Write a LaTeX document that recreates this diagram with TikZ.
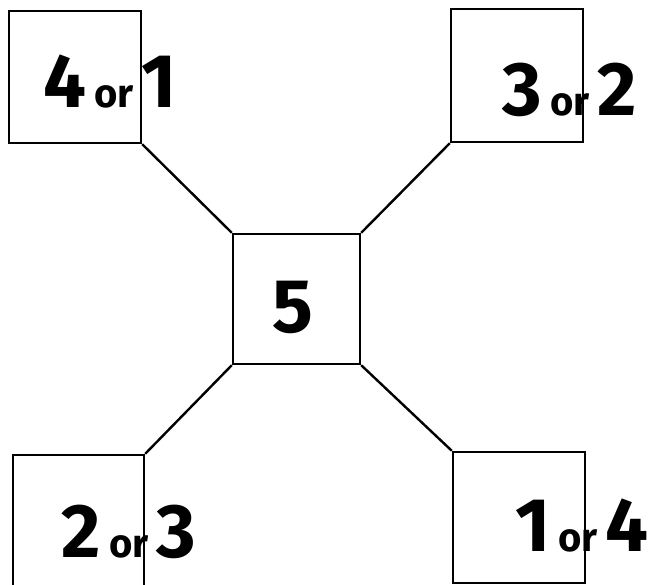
\documentclass[tikz,border=0pt]{standalone}
\usepackage{fontspec}
\setmainfont{Fira Sans}
\newcommand{\mydig}[1]{{\fontsize{76}{76}\selectfont\bfseries #1}}
\newcommand{\myor}[1]{{\fontsize{40}{40}\selectfont\bfseries #1}}
\newcommand{\mysp}{\hspace{8pt}}
\begin{document}
\begin{tikzpicture}[x=1pt,y=-1pt,
  box/.style={draw, line width=2.4pt, inner sep=0pt},
  lbl/.style={inner sep=0pt, anchor=center},
  conn/.style={line width=2.4pt}]
\useasboundingbox (0,0) rectangle (651,585);
\begin{scope}
\clip (0,0) rectangle (651,585);
\node[box, minimum width=132pt, minimum height=132pt] (tl) at (75,77) {};
\node[box, minimum width=132pt, minimum height=133pt] (tr) at (517,75.5) {};
\node[box, minimum width=127pt, minimum height=130pt] (c) at (296.5,299) {};
\node[box, minimum width=131pt, minimum height=132pt] (bl) at (78.5,521) {};
\node[box, minimum width=132pt, minimum height=131pt] (br) at (519,517.5) {};
\draw[conn] (tl.south east) -- (c.north west);
\draw[conn] (tr.south west) -- (c.north east);
\draw[conn] (bl.north east) -- (c.south west);
\draw[conn] (br.north west) -- (c.south east);
\node[lbl] (t1) at (110,82) {\mydig{4}\mysp\myor{or}\mysp\mydig{1}};
\node[lbl] (t2) at (570,90) {\mydig{3}\mysp\myor{or}\mysp\mydig{2}};
\node[lbl] (t5) at (293,307) {\mydig{5}};
\node[lbl] (t3) at (129,532) {\mydig{2}\mysp\myor{or}\mysp\mydig{3}};
\node[lbl] (t4) at (582,526) {\mydig{1}\mysp\myor{or}\mysp\mydig{4}};
\end{scope}
\end{tikzpicture}
\end{document}
